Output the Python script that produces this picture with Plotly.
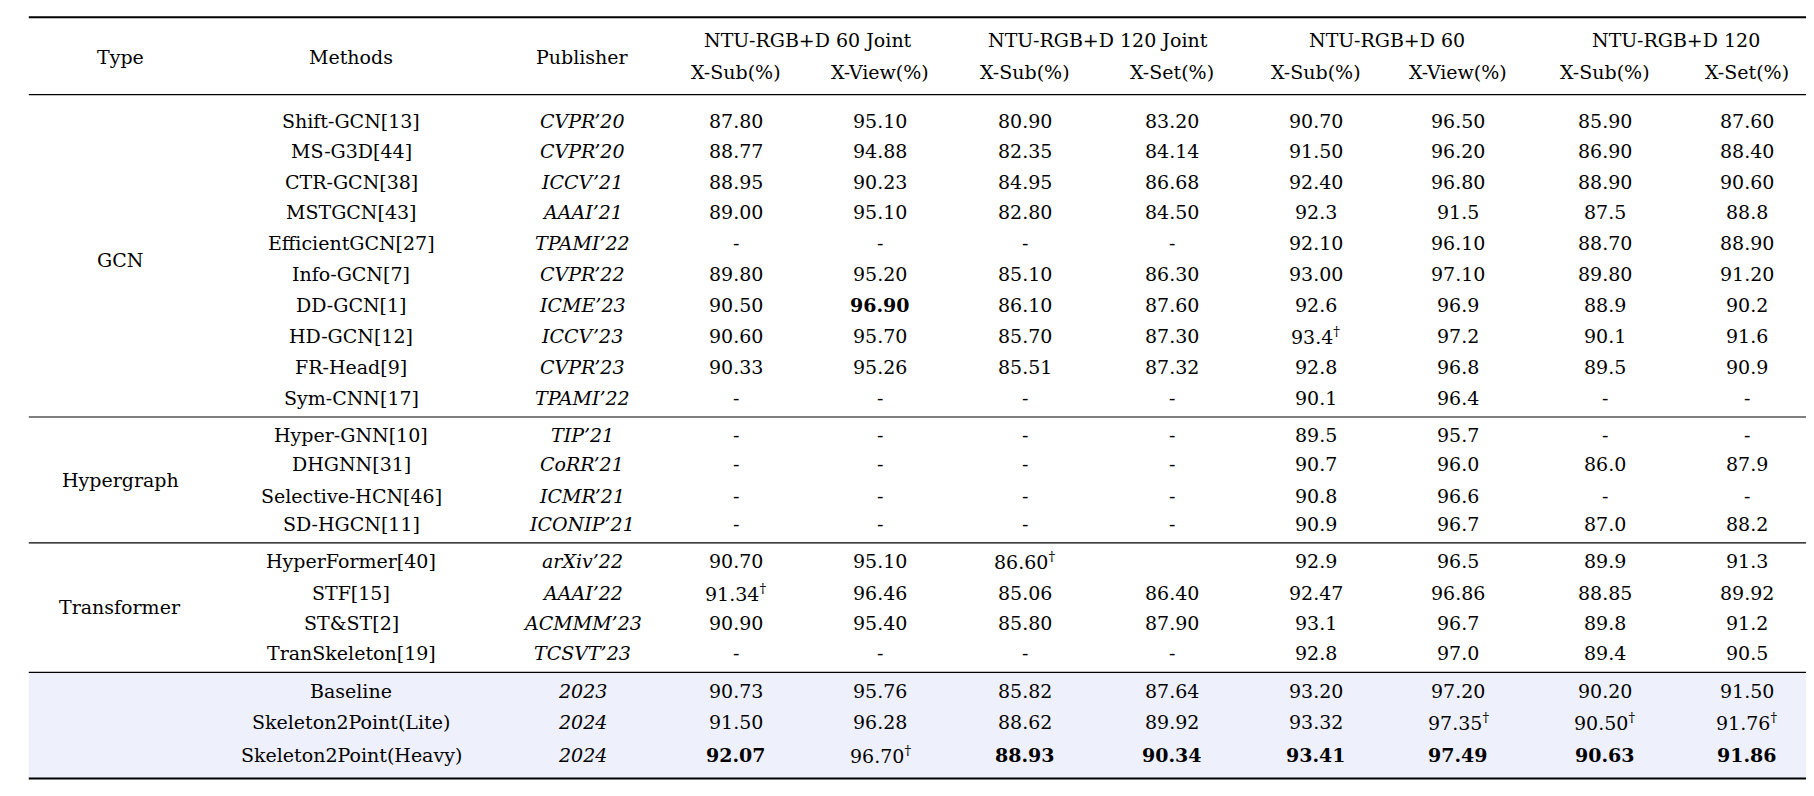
import plotly.graph_objects as go

types = ["GCN", "Hypergraph", "Transformer", ""]
type_rows = [(0, 9), (10, 13), (14, 17), (18, 20)]

methods = ["Shift-GCN[13]", "MS-G3D[44]", "CTR-GCN[38]", "MSTGCN[43]", "EfficientGCN[27]",
           "Info-GCN[7]", "DD-GCN[1]", "HD-GCN[12]", "FR-Head[9]", "Sym-CNN[17]",
           "Hyper-GNN[10]", "DHGNN[31]", "Selective-HCN[46]", "SD-HGCN[11]",
           "HyperFormer[40]", "STF[15]", "ST&ST[2]", "TranSkeleton[19]",
           "Baseline", "Skeleton2Point(Lite)", "Skeleton2Point(Heavy)"]
publishers = ["CVPR’20", "CVPR’20", "ICCV’21", "AAAI’21", "TPAMI’22", "CVPR’22", "ICME’23",
              "ICCV’23", "CVPR’23", "TPAMI’22", "TIP’21", "CoRR’21", "ICMR’21", "ICONIP’21",
              "arXiv’22", "AAAI’22", "ACMMM’23", "TCSVT’23", "2023", "2024", "2024"]

# '*' = bold, '†' = dagger superscript
j60_sub = ["87.80", "88.77", "88.95", "89.00", "-", "89.80", "90.50", "90.60", "90.33", "-",
           "-", "-", "-", "-", "90.70", "91.34†", "90.90", "-", "90.73", "91.50", "*92.07"]
j60_view = ["95.10", "94.88", "90.23", "95.10", "-", "95.20", "*96.90", "95.70", "95.26", "-",
            "-", "-", "-", "-", "95.10", "96.46", "95.40", "-", "95.76", "96.28", "96.70†"]
j120_sub = ["80.90", "82.35", "84.95", "82.80", "-", "85.10", "86.10", "85.70", "85.51", "-",
            "-", "-", "-", "-", "86.60†", "85.06", "85.80", "-", "85.82", "88.62", "*88.93"]
j120_set = ["83.20", "84.14", "86.68", "84.50", "-", "86.30", "87.60", "87.30", "87.32", "-",
            "-", "-", "-", "-", "", "86.40", "87.90", "-", "87.64", "89.92", "*90.34"]
n60_sub = ["90.70", "91.50", "92.40", "92.3", "92.10", "93.00", "92.6", "93.4†", "92.8", "90.1",
           "89.5", "90.7", "90.8", "90.9", "92.9", "92.47", "93.1", "92.8", "93.20", "93.32", "*93.41"]
n60_view = ["96.50", "96.20", "96.80", "91.5", "96.10", "97.10", "96.9", "97.2", "96.8", "96.4",
            "95.7", "96.0", "96.6", "96.7", "96.5", "96.86", "96.7", "97.0", "97.20", "97.35†", "*97.49"]
n120_sub = ["85.90", "86.90", "88.90", "87.5", "88.70", "89.80", "88.9", "90.1", "89.5", "-",
            "-", "86.0", "-", "87.0", "89.9", "88.85", "89.8", "89.4", "90.20", "90.50†", "*90.63"]
n120_set = ["87.60", "88.40", "90.60", "88.8", "88.90", "91.20", "90.2", "91.6", "90.9", "-",
            "-", "87.9", "-", "88.2", "91.3", "89.92", "91.2", "90.5", "91.50", "91.76†", "*91.86"]

groups = ["NTU-RGB+D 60 Joint", "NTU-RGB+D 120 Joint", "NTU-RGB+D 60", "NTU-RGB+D 120"]
subheads = ["X-Sub(%)", "X-View(%)", "X-Sub(%)", "X-Set(%)", "X-Sub(%)", "X-View(%)", "X-Sub(%)", "X-Set(%)"]

W, H = 1570, 689
col_x = [630, 755, 880, 1007, 1132, 1255, 1382, 1505]
row_y = [98, 124, 151, 177, 203, 230, 257, 284, 311, 338,
         370, 395, 422, 447, 479, 506, 532, 558, 591, 618, 647]
FONT = dict(family="DejaVu Serif, serif", size=19, color="black")

def fmt(s):
    bold = s.startswith("*")
    s = s.lstrip("*")
    if s.endswith("†"):
        s = s[:-1] + "<sup>†</sup>"
    return f"<b>{s}</b>" if bold else s

fig = go.Figure()
ann = []
def add(x, y, t):
    ann.append(dict(x=x, y=y, xref="x", yref="y", text=t, showarrow=False, font=FONT))

add(97, 42, "Type")
add(297, 42, "Methods")
add(497, 42, "Publisher")
for i, g in enumerate(groups):
    add((col_x[2 * i] + col_x[2 * i + 1]) / 2, 28, g)
for x, s in zip(col_x, subheads):
    add(x, 55, s)

for t, (a, b) in zip(types, type_rows):
    if t:
        add(97, (row_y[a] + row_y[b]) / 2, t)
for i in range(len(methods)):
    add(297, row_y[i], methods[i].replace("&", "&amp;"))
    add(497, row_y[i], f"<i>{publishers[i]}</i>")
    for x, col in zip(col_x, [j60_sub, j60_view, j120_sub, j120_set, n60_sub, n60_view, n120_sub, n120_set]):
        if col[i]:
            add(x, row_y[i], fmt(col[i]))

shapes = [dict(type="rect", x0=18, x1=1563, y0=575, y1=667, fillcolor="#eef0fb", line_width=0, layer="below")]
for y, w in [(8, 2), (75, 1.2), (354, 1.2), (463, 1.2), (575, 1.2), (667, 2)]:
    shapes.append(dict(type="line", x0=18, x1=1563, y0=y, y1=y, line=dict(color="black", width=w)))

fig.update_layout(
    width=1814, height=796, margin=dict(l=0, r=0, t=0, b=0),
    plot_bgcolor="white", paper_bgcolor="white",
    xaxis=dict(range=[0, W], visible=False, fixedrange=True),
    yaxis=dict(range=[H, 0], visible=False, fixedrange=True),
    annotations=ann, shapes=shapes, showlegend=False,
)
fig.write_html("out.html")
